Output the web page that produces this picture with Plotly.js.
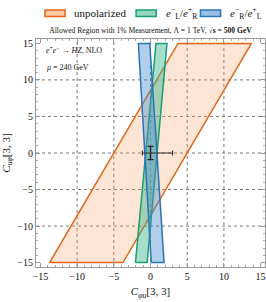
<!DOCTYPE html>
<html><head><meta charset="utf-8">
<script src="https://cdn.plot.ly/plotly-3.0.1.min.js"></script>
<style>html,body{margin:0;padding:0;background:#fff}#chart{width:266px;height:302px}</style>
</head><body><div id="chart"></div>
<script>
// Region vertices (C_phiu, C_uphi)
const unpolX = [-13.75, -3.75, 13.75, 3.75, -13.75];
const unpolY = [-15, -15, 15, 15, -15];
const lrX = [-2.05, -0.45, 2.25, 0.75, -2.05];
const lrY = [-15, -15, 15, 15, -15];
const rlX = [0.1, 1.85, -0.1, -1.65, 0.1];
const rlY = [-15, -15, 15, 15, -15];
// Measured point with uncertainties
const ptX = [0];
const ptY = [0];
const ptErrXPlus = [3.0];
const ptErrXMinus = [1.1];
const ptErrY = [0.9];
// Grid positions
const gridVals = [-10, -5, 0, 5, 10];
// Series names
const seriesNames = ['unpolarized',
  '<i>e</i><sup>−</sup><sub>L</sub>/<i>e</i><sup>+</sup><sub>R</sub>',
  '<i>e</i><sup>−</sup><sub>R</sub>/<i>e</i><sup>+</sup><sub>L</sub>'];

const serif = 'Liberation Serif, Times New Roman, serif';
const lineColors = ['#e0661a', '#1a9e78', '#2a74b8'];
const fillColors = ['rgba(245,160,100,0.28)', 'rgba(60,180,140,0.45)', 'rgba(70,140,205,0.42)'];
const xs = [unpolX, lrX, rlX], ys = [unpolY, lrY, rlY];

const traces = xs.map((xv, i) => ({
  x: xv, y: ys[i], type: 'scatter', mode: 'lines', fill: 'toself', name: seriesNames[i],
  showlegend: false, line: {color: lineColors[i], width: 1.5}, fillcolor: fillColors[i]
}));
traces.push({x: ptX, y: ptY, type: 'scatter', mode: 'markers', showlegend: false,
  marker: {size: 1, color: '#333'},
  error_x: {type: 'data', symmetric: false, array: ptErrXPlus, arrayminus: ptErrXMinus, color: '#333', thickness: 1.2, width: 2.5},
  error_y: {type: 'data', array: ptErrY, color: '#222', thickness: 1.4, width: 3}});

const shapes = [];
gridVals.forEach(v => {
  shapes.push({type: 'line', xref: 'x', yref: 'paper', x0: v, x1: v, y0: 0, y1: 1, layer: 'below',
    line: {color: '#777', width: 1, dash: 'dot'}});
  shapes.push({type: 'line', xref: 'paper', yref: 'y', x0: 0, x1: 1, y0: v, y1: v, layer: 'below',
    line: {color: '#777', width: 1, dash: 'dot'}});
});

// Legend (drawn manually, single row above the title)
const legSwatchX = [0.039, 0.437, 0.718];
const legSwatchW = 0.088;
const legTextGap = 0.032;
const legY0 = 1.099, legY1 = 1.127, legYc = 1.113;
const annotations = [];
legSwatchX.forEach((x0, i) => {
  shapes.push({type: 'rect', xref: 'paper', yref: 'paper', x0: x0, x1: x0 + legSwatchW, y0: legY0, y1: legY1,
    line: {color: lineColors[i], width: 1.5}, fillcolor: fillColors[i].replace(/0\.\d+\)$/, '0.55)')});
  annotations.push({xref: 'paper', yref: 'paper', x: x0 + legSwatchW + legTextGap, y: legYc,
    xanchor: 'left', yanchor: 'middle', showarrow: false, text: seriesNames[i],
    font: {family: serif, size: 11, color: '#111'}});
});
annotations.push(
  {xref: 'paper', yref: 'paper', x: 0.035, y: 0.952, xanchor: 'left', yanchor: 'middle', showarrow: false,
   text: '<i>e</i><sup>+</sup><i>e</i><sup>−</sup> → <i>HZ</i>, NLO', font: {family: serif, size: 8, color: '#111'}},
  {xref: 'paper', yref: 'paper', x: 0.035, y: 0.877, xanchor: 'left', yanchor: 'middle', showarrow: false,
   text: '<i>μ</i> = 240 GeV', font: {family: serif, size: 8, color: '#111'}}
);

const axisCommon = {
  range: [-15.6, 15.6], tickmode: 'linear', tick0: 0, dtick: 5,
  ticks: 'inside', ticklen: 4, tickcolor: '#999', tickwidth: 1,
  minor: {dtick: 1, ticks: 'inside', ticklen: 2, tickcolor: '#aaa'},
  showline: true, linecolor: '#999', linewidth: 1, mirror: 'allticks',
  showgrid: false, zeroline: false,
  tickfont: {family: serif, size: 10, color: '#111'}
};

const layout = {
  width: 266, height: 302,
  margin: {l: 36, r: 1, t: 39, b: 35},
  paper_bgcolor: '#fff', plot_bgcolor: '#fff',
  font: {family: serif, color: '#111'},
  title: {text: 'Allowed Region with 1% Measurement, Λ = 1 TeV, <b>√s = 500 GeV</b>',
    font: {family: serif, size: 7.6, color: '#111'}, xref: 'paper', x: 0.5, xanchor: 'center',
    yref: 'container', y: 0.9, yanchor: 'middle'},
  xaxis: Object.assign({}, axisCommon, {
    title: {text: '<i>C</i><sub><i>φu</i></sub>[3, 3]', font: {family: serif, size: 11, color: '#111'}, standoff: 6}}),
  yaxis: Object.assign({}, axisCommon, {
    title: {text: '<i>C</i><sub><i>uφ</i></sub>[3, 3]', font: {family: serif, size: 11, color: '#111'}, standoff: 4}}),
  showlegend: false,
  shapes: shapes,
  annotations: annotations
};

Plotly.newPlot('chart', traces, layout, {displayModeBar: false, staticPlot: true});
</script></body></html>
